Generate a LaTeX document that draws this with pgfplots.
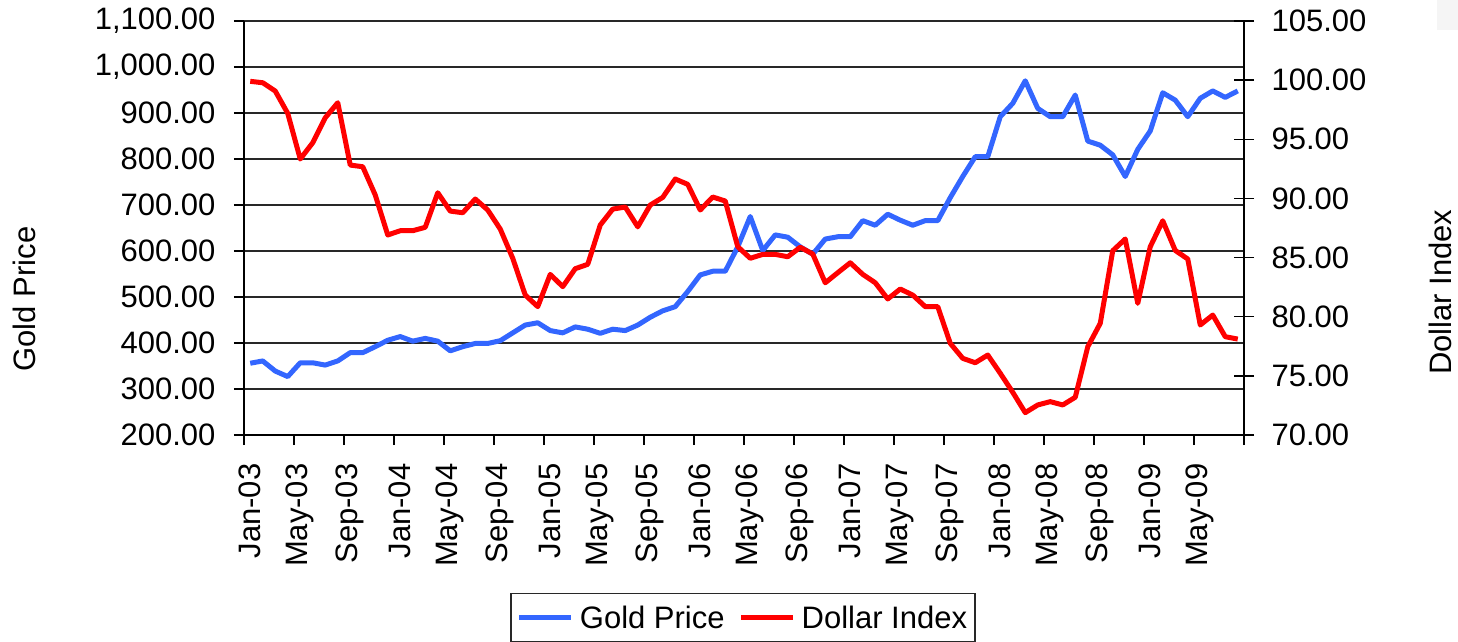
\documentclass[border=0pt]{standalone}
\usepackage{fontspec}
\setmainfont{Liberation Sans}
\usepackage{pgfplots}
\usepackage{pgfplotstable}
\pgfplotsset{compat=1.18}
\definecolor{goldBlue}{RGB}{51,102,255}
\definecolor{usdRed}{RGB}{255,0,0}
\definecolor{gridInk}{RGB}{40,40,40}

\pgfplotstableread{
i gold
0 356
1 361
2 339
3 327
4 357
5 357
6 352
7 361
8 379
9 379
10 392
11 406
12 414
13 404
14 410
15 404
16 383
17 392
18 399
19 399
20 405
21 422
22 439
23 444
24 427
25 422
26 435
27 430
28 421
29 430
30 427
31 439
32 456
33 470
34 479
35 512
36 548
37 556
38 556
39 609
40 675
41 601
42 635
43 630
44 609
45 593
46 626
47 631
48 631
49 666
50 656
51 680
52 667
53 656
54 666
55 666
56 716
57 762
58 805
59 805
60 892
61 921
62 970
63 910
64 892
65 892
66 939
67 839
68 830
69 809
70 762
71 821
72 861
73 944
74 928
75 892
76 932
77 948
78 934
79 948
}\goldtable

\pgfplotstableread{
i usd
0 99.90
1 99.78
2 99.08
3 97.19
4 93.33
5 94.71
6 96.82
7 98.09
8 92.82
9 92.68
10 90.29
11 86.91
12 87.27
13 87.27
14 87.56
15 90.48
16 88.93
17 88.79
18 89.95
19 89.02
20 87.41
21 84.94
22 81.83
23 80.85
24 83.58
25 82.54
26 84.06
27 84.43
28 87.75
29 89.10
30 89.27
31 87.60
32 89.44
33 90.09
34 91.64
35 91.19
36 89.02
37 90.12
38 89.78
39 85.92
40 84.94
41 85.27
42 85.27
43 85.07
44 85.87
45 85.30
46 82.87
47 83.72
48 84.56
49 83.58
50 82.87
51 81.50
52 82.34
53 81.83
54 80.85
55 80.85
56 77.75
57 76.48
58 76.11
59 76.76
60 75.22
61 73.61
62 71.89
63 72.54
64 72.82
65 72.54
66 73.19
67 77.46
68 79.44
69 85.58
70 86.57
71 81.13
72 85.92
73 88.11
74 85.60
75 84.88
76 79.30
77 80.14
78 78.31
79 78.11
}\usdtable

\tikzset{bigfont/.style={font=\fontsize{31}{37}\selectfont}}
\pgfplotsset{
  common/.style={
    scale only axis, width=1000pt, height=414pt,
    at={(0,0)}, anchor=south west,
    xmin=-0.5, xmax=79.5,
    tick label style={bigfont},
    label style={bigfont},
    /pgf/number format/assume math mode=true,
    /pgf/number format/fixed,
    /pgf/number format/fixed zerofill,
    /pgf/number format/precision=2,
    /pgf/number format/1000 sep={,},
  },
}

\begin{document}
\begin{tikzpicture}
\useasboundingbox (-244pt,-207pt) rectangle (1214pt,435pt);

\begin{axis}[
  common,
  axis x line*=bottom, axis y line*=left,
  axis line style={black, line width=1.3pt, -},
  ymin=200, ymax=1100,
  ytick={200,300,...,1100},
  ymajorgrids, major grid style={gridInk, line width=1.3pt},
  xtick={0,4,...,76},
  xticklabels={Jan-03,May-03,Sep-03,Jan-04,May-04,Sep-04,Jan-05,May-05,Sep-05,Jan-06,
               May-06,Sep-06,Jan-07,May-07,Sep-07,Jan-08,May-08,Sep-08,Jan-09,May-09},
  xticklabel style={rotate=90, anchor=east},
  xticklabel shift=15pt,
  yticklabel shift=15pt,
  minor xtick={-0.5,3.5,...,79.5},
  tick align=outside,
  major tick length=10pt, minor tick length=10pt,
  x tick style={draw=none},
  minor x tick style={black, line width=1.3pt, draw=black},
  y tick style={black, line width=1.3pt},
  ylabel={Gold Price},
  ylabel style={at={(axis description cs:-0.22,0.3285)}, anchor=center},
]
\addplot[goldBlue, line width=5pt, line join=round] table[x=i, y=gold] {\goldtable};
\end{axis}

\begin{axis}[
  common,
  axis x line=none, axis y line*=right,
  axis line style={black, line width=1.3pt, -},
  ymin=70, ymax=105,
  ytick={70,75,...,105},
  tick align=center, major tick length=20pt,
  yticklabel shift=14pt,
  y tick style={black, line width=1.3pt},
  ylabel={Dollar Index},
  ylabel style={at={(axis description cs:1.196,0.345)}, anchor=center},
  legend columns=2,
  legend style={at={(0.499,-0.3816)}, anchor=north, bigfont,
    draw=gridInk, line width=1.3pt, inner xsep=6pt, inner ysep=10pt,
    /tikz/every odd column/.append style={column sep=4pt},
    /tikz/every even column/.append style={column sep=12pt}},
  legend image code/.code={\draw[#1, line width=5pt] (0pt,0pt) -- (52pt,0pt);},
]
\addlegendimage{goldBlue, line width=5pt}
\addlegendentry{Gold Price}
\addplot[usdRed, line width=5pt, line join=round] table[x=i, y=usd] {\usdtable};
\addlegendentry{Dollar Index}
\end{axis}

\fill[gray!8] (1193pt,405pt) rectangle (1214pt,435pt);
\end{tikzpicture}
\end{document}
